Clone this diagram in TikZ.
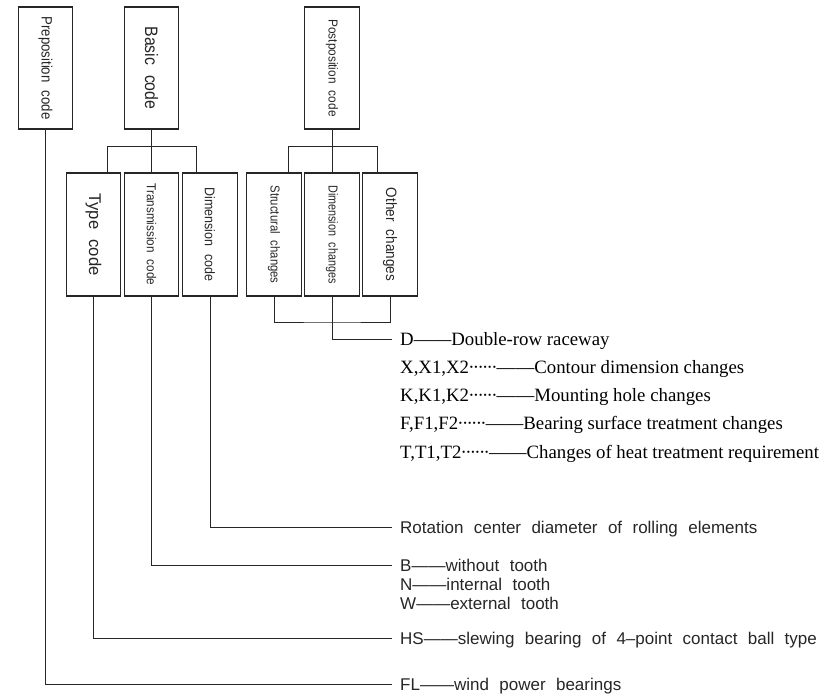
\documentclass[tikz,border=0pt]{standalone}
\usepackage{fontspec}
\usepackage{graphicx}
\setmainfont{Liberation Serif}
\newfontfamily\gsans[WordSpace=2.2]{Liberation Sans}
\newcommand\boxlabel[3]{\scalebox{#2}[1]{\gsans\fontsize{#1}{#1}\selectfont #3}}
\newcommand\onedot{\makebox[4.6pt]{·}}
\newcommand\sixdots{\onedot\onedot\onedot\onedot\onedot\onedot}
\tikzset{
  box/.style={draw=black!85, line width=1.2pt, minimum width=54.5pt, minimum height=122pt, inner sep=0pt},
  childbox/.style={box, minimum height=123pt},
  conn/.style={draw=black!85, line width=1pt},
  lbl/.style={rotate=-90, inner sep=0pt, text=black!85},
  serifitem/.style={anchor=west, inner xsep=8pt, inner ysep=0pt, font=\fontsize{18.8}{19}\selectfont, text height=12pt, text depth=0pt},
  sansitem/.style={anchor=west, inner xsep=8pt, inner ysep=0pt, font=\gsans\fontsize{17}{17}\selectfont, text height=12pt, text depth=0pt, text=black!85},
}
\begin{document}
\begin{tikzpicture}[x=1pt,y=-1pt]
\useasboundingbox (0,0) rectangle (830,698);
% top boxes
\node[box] (pre) at (45.5,68) {};
\node[box] (basic) at (151.5,68) {};
\node[box] (post) at (332,68) {};
% child boxes
\node[childbox] (type) at (93.5,234.5) {};
\node[childbox] (trans) at (151.5,234.5) {};
\node[childbox] (dimc) at (210,234.5) {};
\node[childbox] (struct) at (274,234.5) {};
\node[childbox] (dimch) at (332,234.5) {};
\node[childbox] (other) at (390,234.5) {};
% labels
\node[lbl] (lpre) at (pre.center) {\boxlabel{15}{0.88}{Preposition code}};
\node[lbl] (lbasic) at (basic.center) {\boxlabel{18}{0.88}{Basic code}};
\node[lbl] (lpost) at (post.center) {\boxlabel{13}{0.91}{Postposition code}};
\node[lbl] (ltype) at (type.center) {\boxlabel{17}{0.98}{Type code}};
\node[lbl] (ltrans) at (trans.center) {\boxlabel{13}{0.90}{Transmission code}};
\node[lbl] (ldimc) at (dimc.center) {\boxlabel{14}{0.89}{Dimension code}};
\node[lbl] (lstruct) at (struct.center) {\boxlabel{13}{0.87}{Structural changes}};
\node[lbl] (ldimch) at (dimch.center) {\boxlabel{13}{0.83}{Dimension changes}};
\node[lbl] (lother) at (other.center) {\boxlabel{15}{0.90}{Other changes}};
% tree connectors
\coordinate (bjl) at (107.5,147);
\coordinate (bjr) at (196,147);
\coordinate (pjl) at (288,147);
\coordinate (pjr) at (377,147);
\coordinate (pb) at (332,322);
\draw[conn] (basic.south) -- (trans.north);
\draw[conn] (bjl |- type.north) -- (bjl) -- (bjr) -- (bjr |- dimc.north);
\draw[conn] (post.south) -- (dimch.north);
\draw[conn] (pjl |- struct.north) -- (pjl) -- (pjr) -- (pjr |- other.north);
\draw[conn] (struct.south) |- (pb) -| (other.south);
% text items
\node[serifitem] (tD) at (392,339) {D——Double-row raceway};
\node[serifitem] (tX) at (392,367) {X,X1,X2\sixdots——Contour dimension changes};
\node[serifitem] (tK) at (392,395) {K,K1,K2\sixdots——Mounting hole changes};
\node[serifitem] (tF) at (392,423) {F,F1,F2\sixdots——Bearing surface treatment changes};
\node[serifitem] (tT) at (392,452) {T,T1,T2\sixdots——Changes of heat treatment requirement};
\node[sansitem] (tR) at (392,527) {Rotation center diameter of rolling elements};
\node[sansitem] (tB) at (392,565) {B——without tooth};
\node[sansitem] (tN) at (392,584) {N——internal tooth};
\node[sansitem] (tW) at (392,603) {W——external tooth};
\node[sansitem] (tHS) at (392,638) {HS——slewing bearing of 4–point contact ball type};
\node[sansitem] (tFL) at (392,684) {FL——wind power bearings};
% leader connectors
\draw[conn] (dimch.south) |- (tD.west);
\draw[conn] (dimc.south) |- (tR.west);
\draw[conn] (trans.south) |- (tB.west);
\draw[conn] (type.south) |- (tHS.west);
\draw[conn] (pre.south) |- (tFL.west);
\end{tikzpicture}
\end{document}
